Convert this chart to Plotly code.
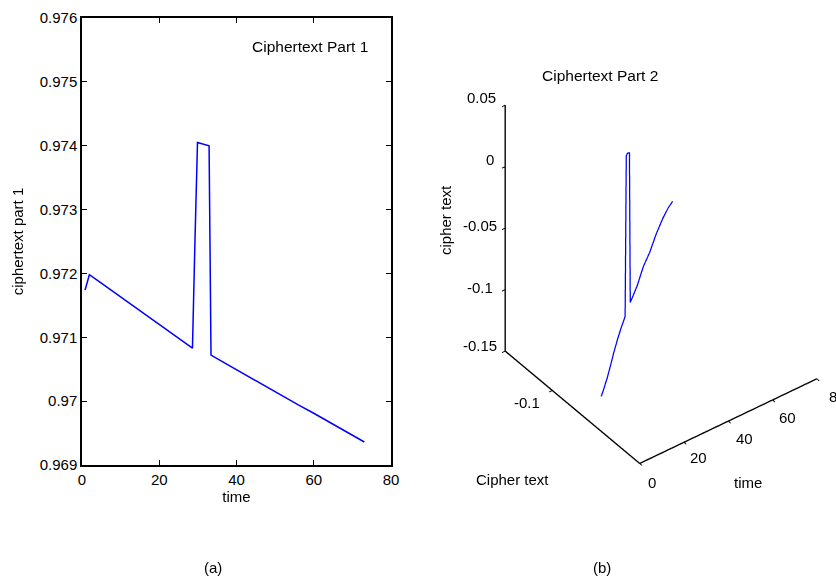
import plotly.graph_objects as go

# ---------------- data: panel (a) ----------------
time_a = [0.8, 1.9, 4, 7, 10, 13, 16, 19, 22, 25, 28.6, 29.2, 29.9, 32.9, 33.2, 33.4,
          36, 40, 44, 48, 52, 56, 60, 64, 68, 73.1]
part1 = [0.97174, 0.97198, 0.97189, 0.97176, 0.97163, 0.97150, 0.97137,
         0.97124, 0.97111, 0.97098, 0.97083, 0.97240, 0.97405, 0.97400, 0.97240,
         0.97072, 0.97063, 0.97049, 0.97036, 0.97022, 0.97008, 0.96994,
         0.96981, 0.96967, 0.96953, 0.96936]

xticks_a = [0, 20, 40, 60, 80]
yticks_a = [0.969, 0.970, 0.971, 0.972, 0.973, 0.974, 0.975, 0.976]
yticklabels_a = ["0.969", "0.97", "0.971", "0.972", "0.973", "0.974", "0.975", "0.976"]

# ---------------- data: panel (b) ----------------
time_b = [1, 4, 8, 12, 16, 20, 24, 29, 30, 31, 33, 34, 40, 46, 52, 58, 64, 69, 73]
cipher_y = [-0.1267, -0.1244, -0.1213, -0.1181, -0.1150, -0.1119, -0.1088, -0.1049,
            -0.1043, -0.1036, -0.1023, -0.1015, -0.0977, -0.0938, -0.0899, -0.0860,
            -0.0822, -0.0789, -0.0763]
cipher_z = [-0.1240, -0.1231, -0.1212, -0.1185, -0.1145, -0.1118, -0.1100, -0.1089,
            0.0200, 0.0204, 0.0178, -0.1059, -0.1026, -0.0961, -0.0941, -0.0890,
            -0.0860, -0.0858, -0.0871]

xticks_b = [0, 20, 40, 60, 80]
xticklabels_b = ["0", "20", "40", "60", "80"]
yticks_b = [-0.1]
yticklabels_b = ["-0.1"]
zticks_b = [-0.15, -0.1, -0.05, 0, 0.05]
zticklabels_b = ["-0.15", "-0.1", "-0.05", "0", "0.05"]

FONT = "Liberation Sans, Arial, sans-serif"
FS = 15
BLUE = "#0000ff"

fig = go.Figure()
fig.add_trace(go.Scatter(x=time_a, y=part1, mode="lines",
                         line=dict(color=BLUE, width=1.5), showlegend=False))
fig.add_trace(go.Scatter3d(x=time_b, y=cipher_y, z=cipher_z, mode="lines",
                           line=dict(color=BLUE, width=2.5), showlegend=False,
                           scene="scene"))

axis3 = dict(showbackground=False, showgrid=False, zeroline=False,
             showline=True, linecolor="black", linewidth=3,
             ticks="outside", ticklen=4, tickcolor="black", tickwidth=2,
             showticklabels=False,
             showspikes=False, title=dict(text=""))

fig.update_layout(
    width=836, height=579,
    margin=dict(l=0, r=0, t=0, b=0),
    paper_bgcolor="white", plot_bgcolor="white",
    font=dict(family=FONT, size=FS, color="black"),
    xaxis=dict(domain=[0.0981, 0.4677], range=[0, 80], tickvals=xticks_a,
               showline=True, linecolor="black", linewidth=1.5, mirror="allticks",
               ticks="inside", ticklen=5, tickcolor="black", showgrid=False,
               zeroline=False, automargin=False, tickfont=dict(size=FS),
               title=dict(text="time", standoff=0, font=dict(size=FS))),
    yaxis=dict(domain=[0.1969, 0.9689], range=[0.969, 0.976], tickvals=yticks_a,
               ticktext=yticklabels_a,
               showline=True, linecolor="black", linewidth=1.5, mirror="allticks",
               ticks="inside", ticklen=5, tickcolor="black", showgrid=False,
               zeroline=False, automargin=False, tickfont=dict(size=FS),
               title=dict(text="ciphertext part 1", standoff=12, font=dict(size=FS))),
    scene=dict(
        domain=dict(x=[0.5814, 1.0], y=[0.1926, 0.9698]),
        aspectmode="manual", aspectratio=dict(x=0.987, y=0.991, z=1.410),
        camera=dict(eye=dict(x=-0.884, y=-1.169, z=1.195),
                    up=dict(x=0, y=0, z=1), center=dict(x=0, y=0, z=0),
                    projection=dict(type="orthographic")),
        xaxis=dict(axis3, range=[0, 80], tickvals=xticks_b),
        yaxis=dict(axis3, range=[-0.15, -0.073], tickvals=yticks_b),
        zaxis=dict(axis3, range=[-0.15, 0.05], tickvals=zticks_b),
    ),
)

def add_text(text, x, y, xanchor="center", textangle=0, size=FS):
    fig.add_annotation(xref="paper", yref="paper", showarrow=False,
                       x=x / 836, y=1 - y / 579, xanchor=xanchor, yanchor="middle",
                       textangle=textangle, text=text,
                       font=dict(family=FONT, size=size, color="black"))

# titles and labels
add_text("Ciphertext Part 1", 310, 46, size=15.5)
add_text("Ciphertext Part 2", 600, 75, size=15.5)
add_text("cipher text", 445, 220, textangle=-90)
add_text("Cipher text", 512, 480)
add_text("time", 748, 482)
add_text("(a)", 213, 567)
add_text("(b)", 602, 567)

# 3-D tick labels (horizontal, as in the original)
z_label_pos = [(499, 345), (495, 287), (499, 225), (496, 160), (498, 98)]
for lab, (px, py) in zip(zticklabels_b, z_label_pos):
    add_text(lab, px, py, xanchor="right")
y_label_pos = [(527, 402)]
for lab, (px, py) in zip(yticklabels_b, y_label_pos):
    add_text(lab, px, py)
x_label_pos = [(652, 482), (698, 457), (744, 438), (787, 417), (827, 396)]
for lab, (px, py) in zip(xticklabels_b, x_label_pos):
    add_text(lab, px, py, xanchor="center" if lab != "80" else "left")

fig.write_html("out.html", config={"displayModeBar": False},
               post_script="document.body.style.margin='0px';")
